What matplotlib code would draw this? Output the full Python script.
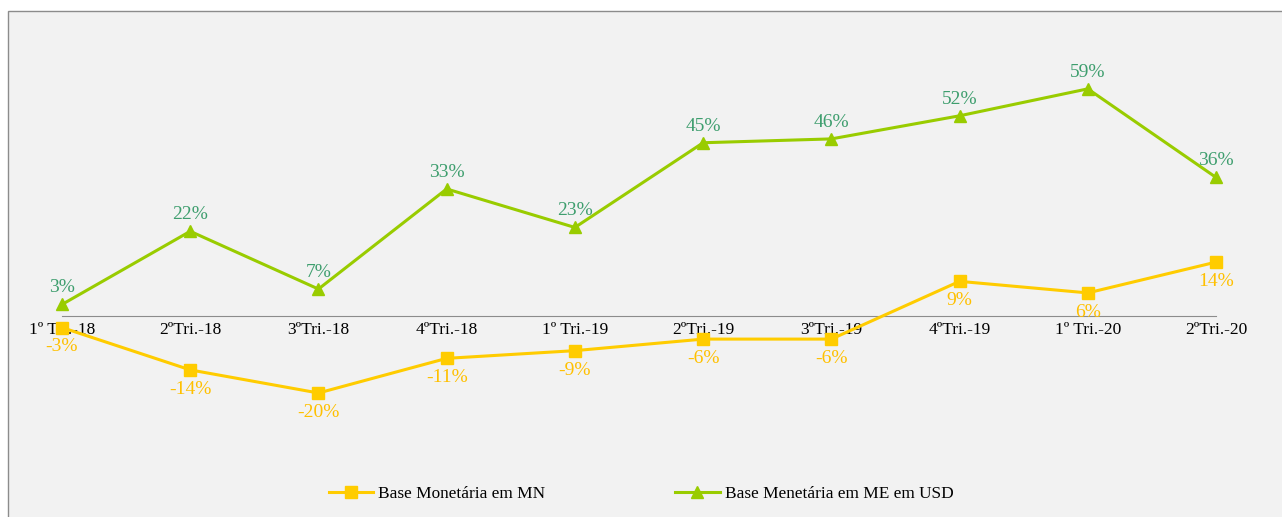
import matplotlib.pyplot as plt
import numpy as np
from matplotlib.patches import Rectangle

QUARTERS = ["1º Tri.-18", "2ºTri.-18", "3ºTri.-18", "4ºTri.-18", "1º Tri.-19",
            "2ºTri.-19", "3ºTri.-19", "4ºTri.-19", "1º Tri.-20", "2ºTri.-20"]
BASE_MN = [-3, -14, -20, -11, -9, -6, -6, 9, 6, 14]
BASE_ME_USD = [3, 22, 7, 33, 23, 45, 46, 52, 59, 36]

plt.rcParams["font.family"] = ["Liberation Serif", "DejaVu Serif"]

W, H = 1282, 517
fig = plt.figure(figsize=(W / 100, H / 100), dpi=100)
fig.patch.set_facecolor("white")

# chart frame
fig.patches.append(Rectangle((8 / W, -0.05), 1.1, (H - 11) / H + 0.05,
                             transform=fig.transFigure, facecolor="#F2F2F2",
                             edgecolor="#8C8C8C", linewidth=1, zorder=-5))

y_lo, y_hi = -35, 65
px_per = 3.85
top_px = 316 - y_hi * px_per
bot_px = 316 - y_lo * px_per
ax = fig.add_axes([62 / W, (H - bot_px) / H, (1216 - 62) / W, (bot_px - top_px) / H])
ax.set_facecolor("none")
ax.set_zorder(2)
for s in ["top", "right", "left"]:
    ax.spines[s].set_visible(False)
ax.spines["bottom"].set_position(("data", 0))
ax.spines["bottom"].set_color("#8C8C8C")

x = np.arange(len(QUARTERS))
mn_color = "#FFCC00"
me_color = "#99CC00"

l1, = ax.plot(x, BASE_MN, color=mn_color, lw=2.2, marker="s", ms=8.5,
              label="Base Monetária em MN", clip_on=False, zorder=3)
l2, = ax.plot(x, BASE_ME_USD, color=me_color, lw=2.2, marker="^", ms=9,
              label="Base Menetária em ME em USD", clip_on=False, zorder=3)

for xi, v in zip(x, BASE_MN):
    ax.annotate(f"{v}%", (xi, v), xytext=(0, -14), textcoords="offset points",
                ha="center", va="center", color="#FFC000", fontsize=14)
for xi, v in zip(x, BASE_ME_USD):
    ax.annotate(f"{v}%", (xi, v), xytext=(0, 12), textcoords="offset points",
                ha="center", va="center", color="#3E9E6E", fontsize=14)

ax.set_xlim(0, len(QUARTERS) - 1)
ax.set_ylim(y_lo, y_hi)
ax.set_xticks(x)
ax.set_xticklabels(QUARTERS)
ax.set_yticks([])
ax.tick_params(axis="x", length=0, pad=4, labelsize=12.5)

fig.legend(handles=[l1, l2], loc="center", bbox_to_anchor=(0.5, 1 - 494 / H),
           ncol=2, frameon=False, fontsize=12.4, columnspacing=7.5,
           handlelength=2.6, handletextpad=0.3)

fig.savefig("out.png", dpi=100)
